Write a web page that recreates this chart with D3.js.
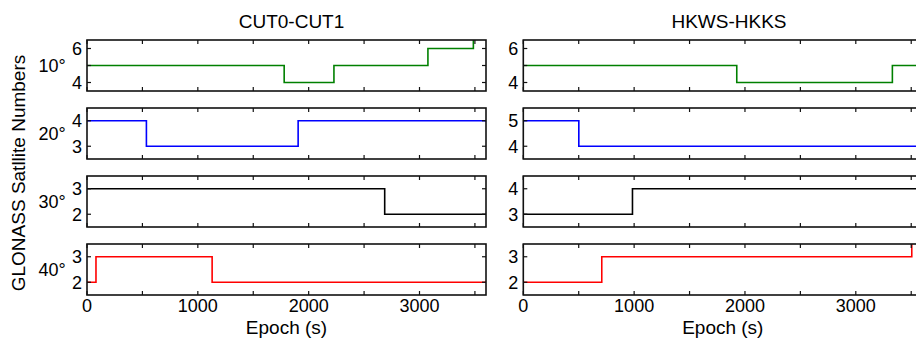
<!DOCTYPE html>
<html>
<head>
<meta charset="utf-8">
<script src="https://cdn.jsdelivr.net/npm/d3@7"></script>
<style>
  html, body { margin: 0; padding: 0; background: #fff; }
  svg { display: block; font-family: "Liberation Sans", Arial, sans-serif; }
</style>
</head>
<body>
<svg id="chart" width="916" height="341"></svg>
<script>
// Station pairs (columns) and elevation cut-off angles (rows)
const baselines = ["CUT0-CUT1", "HKWS-HKKS"];
const cutoffLabels = ["10°", "20°", "30°", "40°"];
const seriesColors = ["#008000", "#0000ff", "#000000", "#ff0000"];

// Epochs (s) at which the visible satellite count changes, and the count from that epoch on
const cutEpochs = [
  [0, 1779, 2228, 3076, 3486],
  [0, 536, 1905],
  [0, 2686],
  [0, 81, 1129]
];
const cutCounts = [
  [5, 4, 5, 6, 7],
  [4, 3, 4],
  [3, 2],
  [2, 3, 2]
];
const hkEpochs = [
  [0, 1926, 3330],
  [0, 501],
  [0, 985],
  [0, 708, 3505]
];
const hkCounts = [
  [5, 4, 5],
  [5, 4],
  [3, 4],
  [2, 3, 4]
];

// Y ranges, tick positions and labelled ticks per panel
const cutYDomains = [[3.5, 6.5], [2.5, 4.5], [1.5, 3.5], [1.5, 3.5]];
const hkYDomains  = [[3.5, 6.5], [3.5, 5.5], [2.5, 4.5], [1.5, 3.5]];
const cutYTicks = [[4, 5, 6], [3, 4], [2, 3], [2, 3]];
const hkYTicks  = [[4, 5, 6], [4, 5], [3, 4], [2, 3]];
const cutYLabels = [[4, 6], [3, 4], [2, 3], [2, 3]];
const hkYLabels  = [[4, 6], [4, 5], [3, 4], [2, 3]];

const epochEnd = 3600;
const epochTicks = [0, 1000, 2000, 3000];
const epochMinorTicks = d3.range(0, epochEnd + 1, 500);

const svg = d3.select("#chart");

const columnLeft = [87, 523.3];
const panelWidth = 399;
const panelTops = [40, 108, 176, 244];
const panelHeight = 51;
const tickLen = 4;

const columns = [
  { epochs: cutEpochs, counts: cutCounts, domains: cutYDomains, ticks: cutYTicks, labels: cutYLabels },
  { epochs: hkEpochs, counts: hkCounts, domains: hkYDomains, ticks: hkYTicks, labels: hkYLabels }
];

const titleX = [291.5, 729];

columns.forEach((col, c) => {
  const x0 = columnLeft[c];
  const x = d3.scaleLinear().domain([0, epochEnd]).range([x0, x0 + panelWidth]);

  svg.append("text")
    .attr("x", titleX[c]).attr("y", 28)
    .attr("text-anchor", "middle")
    .attr("font-size", 19)
    .text(baselines[c]);

  panelTops.forEach((top, r) => {
    const y = d3.scaleLinear().domain(col.domains[r]).range([top + panelHeight, top]);
    const g = svg.append("g");

    const clipId = `clip-${c}-${r}`;
    svg.append("clipPath").attr("id", clipId)
      .append("rect").attr("x", x0).attr("y", top).attr("width", panelWidth).attr("height", panelHeight);

    // satellite count as a step line
    const pts = col.epochs[r].map((e, i) => [e, col.counts[r][i]]);
    pts.push([epochEnd, col.counts[r][col.counts[r].length - 1]]);
    const line = d3.line()
      .x(d => x(d[0])).y(d => y(d[1]))
      .curve(d3.curveStepAfter);
    g.append("path")
      .attr("clip-path", `url(#${clipId})`)
      .attr("d", line(pts))
      .attr("fill", "none")
      .attr("stroke", seriesColors[r])
      .attr("stroke-width", 1.6);

    // frame
    g.append("rect")
      .attr("x", x0).attr("y", top).attr("width", panelWidth).attr("height", panelHeight)
      .attr("fill", "none").attr("stroke", "#111").attr("stroke-width", 1.6);

    // inward ticks on all four sides
    epochMinorTicks.forEach(t => {
      g.append("line").attr("x1", x(t)).attr("x2", x(t))
        .attr("y1", top + panelHeight).attr("y2", top + panelHeight - tickLen)
        .attr("stroke", "#111").attr("stroke-width", 1.2);
      g.append("line").attr("x1", x(t)).attr("x2", x(t))
        .attr("y1", top).attr("y2", top + tickLen)
        .attr("stroke", "#111").attr("stroke-width", 1.2);
    });
    col.ticks[r].forEach(t => {
      g.append("line").attr("x1", x0).attr("x2", x0 + tickLen)
        .attr("y1", y(t)).attr("y2", y(t))
        .attr("stroke", "#111").attr("stroke-width", 1.2);
      g.append("line").attr("x1", x0 + panelWidth).attr("x2", x0 + panelWidth - tickLen)
        .attr("y1", y(t)).attr("y2", y(t))
        .attr("stroke", "#111").attr("stroke-width", 1.2);
    });
    col.labels[r].forEach(t => {
      g.append("text")
        .attr("x", x0 - 5).attr("y", y(t))
        .attr("dy", "0.35em")
        .attr("text-anchor", "end")
        .attr("font-size", 18)
        .text(t);
    });

    if (c === 0) {
      svg.append("text")
        .attr("x", 52).attr("y", top + panelHeight / 2)
        .attr("dy", "0.35em")
        .attr("text-anchor", "middle")
        .attr("font-size", 18)
        .text(cutoffLabels[r]);
    }

    if (r === panelTops.length - 1) {
      epochTicks.forEach(t => {
        svg.append("text")
          .attr("x", x(t)).attr("y", 312)
          .attr("text-anchor", "middle")
          .attr("font-size", 18)
          .text(t);
      });
      svg.append("text")
        .attr("x", x0 + panelWidth / 2).attr("y", 334)
        .attr("text-anchor", "middle")
        .attr("font-size", 19)
        .text("Epoch (s)");
    }
  });
});

svg.append("text")
  .attr("transform", "translate(25,173) rotate(-90)")
  .attr("text-anchor", "middle")
  .attr("font-size", 19)
  .text("GLONASS Satllite Numbers");
</script>
</body>
</html>
